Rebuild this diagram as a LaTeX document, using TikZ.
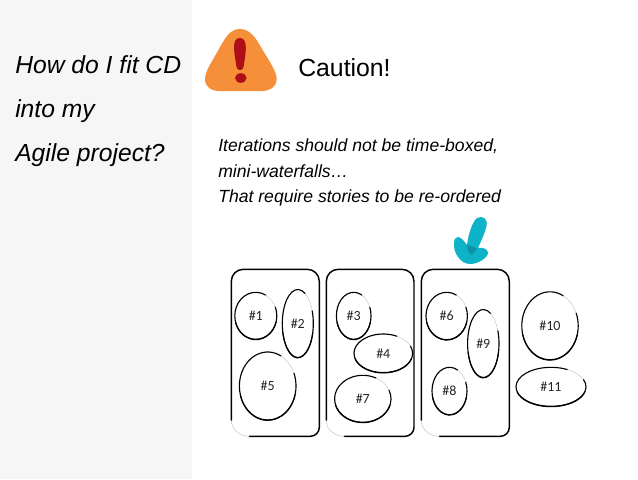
\documentclass[tikz,border=0pt]{standalone}
\usepackage{fontspec}
\setmainfont{Liberation Sans}
\newfontfamily\hand{Carlito}
\definecolor{panel}{HTML}{F6F6F6}
\definecolor{warn}{HTML}{F58F3A}
\definecolor{warnred}{HTML}{AE0F16}
\definecolor{tealmark}{HTML}{0FB3C7}
\definecolor{tealdark}{HTML}{0F8FA8}
\tikzset{
  heading/.style={anchor=base west,font=\fontsize{18.5}{22}\selectfont\itshape,inner sep=0pt},
  body/.style={anchor=base west,font=\fontsize{13.2}{15}\selectfont\itshape,inner sep=0pt},
  blobtext/.style={font=\hand\fontsize{10.5}{12}\selectfont,inner sep=0pt,text=black!85},
  inkline/.style={draw=black,line width=1.1pt,line cap=round,line join=round},
  inkfade/.style={draw=black!25,line width=.3pt},
  blobink/.style={draw=black,line width=.85pt,line cap=round},
}
% name, x, y, x radius, y radius, label
\newcommand{\blob}[6]{%
  \draw[blobink] ({#2+#4*cos(-22)},{#3+#5*sin(-22)})
     arc [start angle=-22,end angle=298,x radius=#4,y radius=#5];
  \draw[blobink] ({#2+#4*cos(15)},{#3+.35+#5*sin(15)})
     arc [start angle=15,end angle=165,x radius=#4,y radius=#5];
  \draw[inkfade] ({#2+#4*cos(-62)},{#3+#5*sin(-62)})
     arc [start angle=-62,end angle=-22,x radius=#4,y radius=#5];
  \node[blobtext] (#1) at (#2,#3) {#6};
}
% x0 x1 y0 y1
\newcommand{\bucket}[4]{%
  \draw[inkline] (#1,#4-16) -- (#1,#3+12) to[out=90,in=180] (#1+12,#3) -- (#2-12,#3)
     to[out=0,in=90] (#2,#3+12) -- (#2,#4-9) to[out=-90,in=0] (#2-9,#4) -- (#1+18,#4);
  \draw[inkfade] (#1,#4-16) to[out=-90,in=180] (#1+18,#4);
}
\begin{document}
\begin{tikzpicture}[x=0.75pt,y=-0.75pt]
\useasboundingbox (0,0) rectangle (638,479);
\fill[white] (0,0) rectangle (638,479);
\fill[panel] (0,0) rectangle (192,479);
\node[heading] (h1) at (15,73) {How do I fit CD};
\node[heading] (h2) at (15,117) {into my};
\node[heading] (h3) at (15,161) {Agile project?};
% warning sign
\fill[warn] (240,29) .. controls (250,29) and (256,38) .. (262,49)
  .. controls (268,59) and (277,72) .. (276.7,79)
  .. controls (276.5,87) and (270,91) .. (262,91)
  -- (220,91) .. controls (211,91) and (205,87) .. (205,79)
  .. controls (205,71) and (213,60) .. (219,49)
  .. controls (225,38) and (230,29) .. (240,29) -- cycle;
\fill[warnred] (240,38) .. controls (244,38) and (246,42) .. (245.8,48)
  .. controls (245.6,56) and (244,64) .. (243.5,67)
  .. controls (243,71) and (237,71) .. (236.5,67)
  .. controls (236,62) and (234,54) .. (234,47)
  .. controls (234,41) and (236,38) .. (240,38) -- cycle;
\fill[warnred] (240.8,78) ellipse [x radius=5.8,y radius=4.8];
\node[anchor=base west,inner sep=0pt,font=\fontsize{18.6}{22}\selectfont] (caution) at (298,76) {Caution!};
\node[body] (b1) at (218,151) {Iterations should not be time-boxed,};
\node[body] (b2) at (218,177) {mini-waterfalls…};
\node[body] (b3) at (218,202) {That require stories to be re-ordered};
% check mark
\fill[tealmark] (454,243) .. controls (454,239) and (456,237) .. (458,237)
  .. controls (461,237) and (465,242) .. (467,245)
  .. controls (468,236) and (472,222) .. (477,218)
  .. controls (483,215) and (488,219) .. (486.5,226)
  .. controls (485,233) and (481,241) .. (478,248)
  .. controls (483,247) and (488,249) .. (488,253)
  .. controls (487.5,258) and (478,264) .. (470,264)
  .. controls (460,264) and (453,252) .. (454,243) -- cycle;
\fill[tealdark] (467,245) .. controls (470,246) and (474,247) .. (477,249)
  .. controls (475,252) and (473,254) .. (471,255)
  .. controls (468,252) and (467,249) .. (467,245) -- cycle;
% buckets
\bucket{231.3}{319.3}{269.3}{436.3}
\bucket{326.3}{414}{269.3}{436.3}
\bucket{421.3}{509.3}{269.3}{436.3}
% stories
\blob{s1}{255.8}{315.8}{21}{23.5}{\#1}
\blob{s2}{297.8}{323.5}{15.5}{34}{\#2}
\blob{s5}{267.7}{386}{28.3}{34}{\#5}
\blob{s3}{353.7}{315.8}{17.3}{23.5}{\#3}
\blob{s4}{383.3}{353.3}{29.3}{19.3}{\#4}
\blob{s7}{362.8}{398.8}{28.2}{23.5}{\#7}
\blob{s6}{446.7}{316}{20.7}{23.7}{\#6}
\blob{s9}{483.3}{343.5}{15.7}{34}{\#9}
\blob{s8}{449.5}{391}{17.5}{23.7}{\#8}
\blob{s10}{550}{325.8}{28.2}{34}{\#10}
\blob{s11}{551}{386.8}{35}{19.5}{\#11}
\end{tikzpicture}
\end{document}
